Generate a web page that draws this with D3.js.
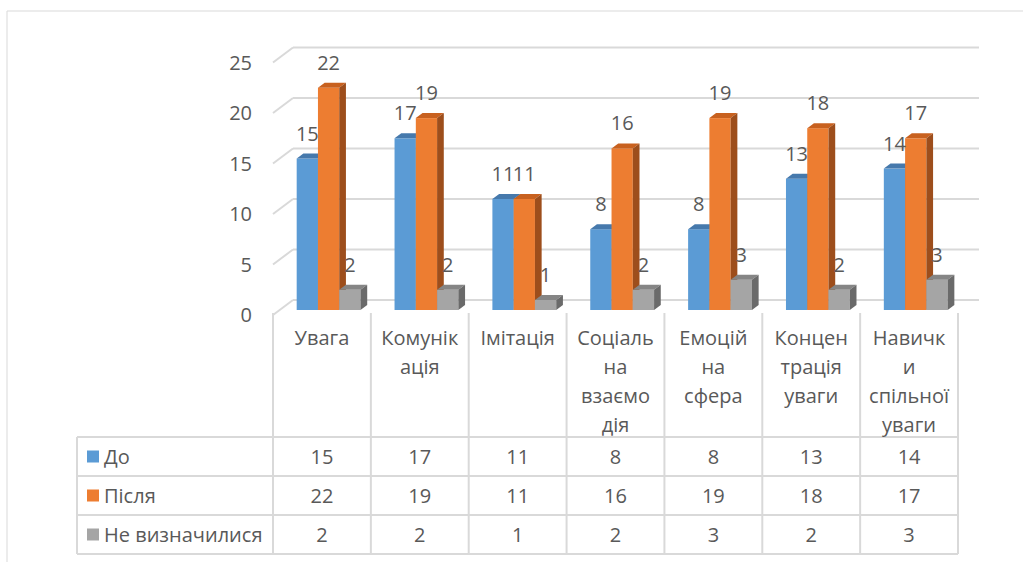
<!DOCTYPE html>
<html>
<head>
<meta charset="utf-8">
<script src="https://cdn.jsdelivr.net/npm/d3@7"></script>
<style>
    body { margin: 0; background: #fff; }
    svg text { font-family: "Open Sans", Lato, sans-serif; fill: #595959; }
</style>
</head>
<body>
<div id="chart"></div>
<script>
const categories = ["Увага", "Комунік\nація", "Імітація", "Соціаль\nна\nвзаємо\nдія", "Емоцій\nна\nсфера", "Концен\nтрація\nуваги", "Навичк\nи\nспільної\nуваги"];
const seriesNames = ["До", "Після", "Не визначилися"];
const before = [15, 17, 11, 8, 8, 13, 14];
const after = [22, 19, 11, 16, 19, 18, 17];
const undecided = [2, 2, 1, 2, 3, 2, 3];
const yTicks = [0, 5, 10, 15, 20, 25];

const seriesValues = [before, after, undecided];
const colors = [
    { front: "#5B9BD5", top: "#4679AC", side: "#3F6E9C" },
    { front: "#ED7D31", top: "#C8611F", side: "#9D4E1C" },
    { front: "#A5A5A5", top: "#858585", side: "#6A6A6A" }
];

const width = 1023;
const height = 562;
const fontSize = 20;
const gridColor = "#D9D9D9";

// 3d geometry: front plane, bar plane and back wall
const frontBase = 315;
const depthX = 20, depthY = 15;
const barT = 1 / 3;
const barBase = frontBase - depthY * barT;
const barDx = 6.7, barDy = 5;

const svg = d3.select("#chart")
    .append("svg")
    .attr("width", width)
    .attr("height", height);

// chart frame
svg.append("line").attr("x1", 7).attr("y1", 11).attr("x2", width).attr("y2", 11)
    .attr("stroke", gridColor).attr("stroke-width", 1);
svg.append("line").attr("x1", 7).attr("y1", 11).attr("x2", 7).attr("y2", height)
    .attr("stroke", gridColor).attr("stroke-width", 1);

const x = d3.scaleBand().domain(categories).range([273, 958]);
const x1 = d3.scaleBand().domain(d3.range(3)).range([0, x.bandwidth()]).paddingOuter(0.8);
const y = d3.scaleLinear().domain([0, 25]).range([0, 252.5]);

// back wall grid + side wall diagonals
const grid = svg.append("g");
yTicks.forEach(v => {
    grid.append("line")
        .attr("x1", x.range()[0] + depthX).attr("x2", x.range()[1] + depthX + 1)
        .attr("y1", frontBase - depthY - y(v)).attr("y2", frontBase - depthY - y(v))
        .attr("stroke", gridColor).attr("stroke-width", 2);
    grid.append("line")
        .attr("x1", x.range()[0]).attr("y1", frontBase - y(v))
        .attr("x2", x.range()[0] + depthX).attr("y2", frontBase - depthY - y(v))
        .attr("stroke", gridColor).attr("stroke-width", 2);
});

// y axis labels
svg.selectAll(".yLabel")
    .data(yTicks)
    .enter().append("text")
    .attr("class", "yLabel")
    .attr("x", 252)
    .attr("y", d => frontBase - y(d))
    .attr("dy", "0.35em")
    .attr("text-anchor", "end")
    .style("font-size", fontSize + "px")
    .text(String);

// bars
const bars = svg.append("g");
categories.forEach((cat, i) => {
    seriesValues.forEach((vals, j) => {
        const v = vals[i];
        const bx = x(cat) + depthX * barT + x1(j);
        const bw = x1.bandwidth();
        const top = barBase - y(v);
        bars.append("rect")
            .attr("x", bx).attr("y", top)
            .attr("width", bw).attr("height", y(v))
            .attr("fill", colors[j].front);
        bars.append("polygon")
            .attr("points", [[bx, top], [bx + barDx, top - barDy], [bx + bw + barDx, top - barDy], [bx + bw, top]].join(" "))
            .attr("fill", colors[j].top);
        bars.append("polygon")
            .attr("points", [[bx + bw, top], [bx + bw + barDx, top - barDy], [bx + bw + barDx, barBase - barDy], [bx + bw, barBase]].join(" "))
            .attr("fill", colors[j].side);
    });
});

// data labels
categories.forEach((cat, i) => {
    seriesValues.forEach((vals, j) => {
        const v = vals[i];
        const bx = x(cat) + depthX * barT + x1(j) + x1.bandwidth() / 2;
        svg.append("text")
            .attr("x", bx)
            .attr("y", barBase - y(v) - 25)
            .attr("dy", "0.35em")
            .attr("text-anchor", "middle")
            .style("font-size", fontSize + "px")
            .text(v);
    });
});

// data table
const tableLeft = 77;
const headTop = 313;
const rowTops = [437, 476, 515, 554];
const table = svg.append("g");
const lineAttrs = sel => sel.attr("stroke", gridColor).attr("stroke-width", 2);

rowTops.forEach(ry => {
    table.append("line").attr("x1", tableLeft).attr("x2", x.range()[1])
        .attr("y1", ry).attr("y2", ry).call(lineAttrs);
});
table.append("line").attr("x1", tableLeft).attr("x2", tableLeft)
    .attr("y1", rowTops[0]).attr("y2", rowTops[3]).call(lineAttrs);
categories.concat([null]).forEach(cat => {
    const lx = cat === null ? x.range()[1] : x(cat);
    table.append("line").attr("x1", lx).attr("x2", lx)
        .attr("y1", headTop).attr("y2", rowTops[3]).call(lineAttrs);
});

// category header text
categories.forEach(cat => {
    const t = table.append("text")
        .attr("text-anchor", "middle")
        .style("font-size", fontSize + "px");
    cat.split("\n").forEach((line, k) => {
        t.append("tspan")
            .attr("x", x(cat) + x.bandwidth() / 2)
            .attr("y", 338 + k * 29)
            .attr("dy", "0.35em")
            .text(line);
    });
});

// rows
seriesNames.forEach((name, j) => {
    const cy = (rowTops[j] + rowTops[j + 1]) / 2;
    table.append("rect")
        .attr("x", 87).attr("y", cy - 6)
        .attr("width", 12).attr("height", 12)
        .attr("fill", colors[j].front);
    table.append("text")
        .attr("x", 104).attr("y", cy).attr("dy", "0.35em")
        .style("font-size", fontSize + "px")
        .text(name);
    categories.forEach((cat, i) => {
        table.append("text")
            .attr("x", x(cat) + x.bandwidth() / 2)
            .attr("y", cy).attr("dy", "0.35em")
            .attr("text-anchor", "middle")
            .style("font-size", fontSize + "px")
            .text(seriesValues[j][i]);
    });
});
</script>
</body>
</html>
